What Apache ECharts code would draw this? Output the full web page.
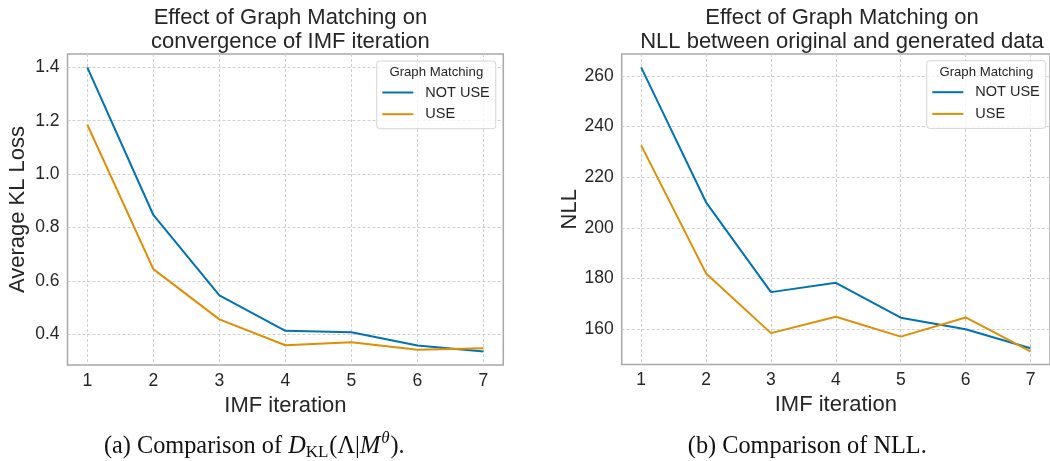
<!DOCTYPE html>
<html>
<head>
<meta charset="utf-8">
<script src="https://cdn.jsdelivr.net/npm/echarts@6/dist/echarts.min.js"></script>
<style>
  html, body { margin: 0; padding: 0; background: #ffffff; }
  #chart { width: 1050px; height: 461px; }
</style>
</head>
<body>
<div id="chart"></div>
<script>
// ---- data ----
const iterations = [1, 2, 3, 4, 5, 6, 7];
const klNotUse = [1.400, 0.847, 0.546, 0.413, 0.408, 0.358, 0.336];
const klUse = [1.185, 0.644, 0.456, 0.359, 0.370, 0.342, 0.348];
const nllNotUse = [263.4, 210.1, 174.6, 178.3, 164.5, 159.9, 152.4];
const nllUse = [232.6, 182.0, 158.4, 164.9, 157.0, 164.6, 151.2];
const klTicks = [0.4, 0.6, 0.8, 1.0, 1.2, 1.4];
const nllTicks = [160, 180, 200, 220, 240, 260];
const xTicks = [1, 2, 3, 4, 5, 6, 7];
const seriesNames = ['NOT USE', 'USE'];
const legendTitle = 'Graph Matching';
const titleA = 'Effect of Graph Matching on\nconvergence of IMF iteration';
const titleB = 'Effect of Graph Matching on\nNLL between original and generated data';

// ---- style ----
const FONT = '"Liberation Sans", Arial, sans-serif';
const SERIF = '"Liberation Serif", "Times New Roman", serif';
const TXT = '#262626';
const BLUE = '#0173b2';
const ORANGE = '#de8f05';
const GRIDC = '#cfcfcf';

const toPts = (arr) => iterations.map((x, i) => [x, arr[i]]);

function xAxisDef(gi) {
  return {
    type: 'value', gridIndex: gi, min: 0.7, max: 7.3,
    name: 'IMF iteration', nameLocation: 'middle', nameGap: 24,
    nameTextStyle: { fontFamily: FONT, fontSize: 22, color: TXT },
    axisLine: { show: false },
    axisTick: { show: false, customValues: xTicks },
    axisLabel: { customValues: xTicks, fontFamily: FONT, fontSize: 17.5, color: TXT, margin: 7 },
    splitLine: { show: true, lineStyle: { color: GRIDC, type: [3, 2], width: 1 } }
  };
}
function yAxisDef(gi, name, min, max, ticks, fmt) {
  return {
    type: 'value', gridIndex: gi, min: min, max: max,
    name: name, nameLocation: 'middle', nameGap: 39,
    nameTextStyle: { fontFamily: FONT, fontSize: 22, color: TXT },
    axisLine: { show: false },
    axisTick: { show: false, customValues: ticks },
    axisLabel: { customValues: ticks, fontFamily: FONT, fontSize: 17.5, color: TXT, margin: 8, formatter: fmt },
    splitLine: { show: true, lineStyle: { color: GRIDC, type: [3, 2], width: 1 } }
  };
}
function legendDef(left, top) {
  return {
    orient: 'vertical', left: left, top: top,
    data: seriesNames,
    icon: 'path://M0,6 L31,6 L31,8 L0,8 Z',
    itemWidth: 31, itemHeight: 14, itemGap: 6.7,
    padding: [24, 6, 7, 5.6],
    backgroundColor: 'rgba(255,255,255,0.8)',
    borderColor: '#d6d6d6', borderWidth: 1, borderRadius: 3,
    textStyle: { fontFamily: FONT, fontSize: 14.5, color: TXT, padding: [0, 0, 0, 7] },
    selectedMode: false
  };
}
function lineSeries(name, gi, data, color) {
  return {
    type: 'line', name: name, xAxisIndex: gi, yAxisIndex: gi,
    data: toPts(data), symbol: 'none', showSymbol: false,
    lineStyle: { color: color, width: 2 }, itemStyle: { color: color },
    z: 3, animation: false
  };
}

const chart = echarts.init(document.getElementById('chart'), null, { renderer: 'canvas' });
chart.setOption({
  backgroundColor: '#ffffff',
  animation: false,
  title: [
    { text: titleA, left: 285.4, top: 1, textAlign: 'center',
      textStyle: { fontFamily: FONT, fontSize: 22, fontWeight: 'normal', color: TXT, lineHeight: 24 } },
    { text: titleB, left: 837, top: 1, textAlign: 'center',
      textStyle: { fontFamily: FONT, fontSize: 22, fontWeight: 'normal', color: TXT, lineHeight: 24 } }
  ],
  grid: [
    { left: 67.5, top: 54, width: 435.8, height: 311, show: true, borderColor: '#a8a8a8', borderWidth: 1.5, backgroundColor: 'transparent' },
    { left: 621.7, top: 54, width: 431.3, height: 310.5, show: true, borderColor: '#a8a8a8', borderWidth: 1.5, backgroundColor: 'transparent' }
  ],
  xAxis: [xAxisDef(0), xAxisDef(1)],
  yAxis: [
    yAxisDef(0, 'Average KL Loss', 0.285, 1.45, klTicks, (v) => v.toFixed(1)),
    yAxisDef(1, 'NLL', 146, 268.7, nllTicks, (v) => String(Math.round(v)))
  ],
  legend: [legendDef(376.7, 61), legendDef(926.7, 60.7)],
  series: [
    lineSeries(seriesNames[0], 0, klNotUse, BLUE),
    lineSeries(seriesNames[1], 0, klUse, ORANGE),
    lineSeries(seriesNames[0], 1, nllNotUse, BLUE),
    lineSeries(seriesNames[1], 1, nllUse, ORANGE)
  ],
  graphic: [
    { type: 'text', x: 436.3, y: 72.5,
      style: { text: legendTitle, font: '13.2px ' + FONT, fill: TXT, align: 'center', verticalAlign: 'middle' }, z: 100 },
    { type: 'text', x: 986.3, y: 72.5,
      style: { text: legendTitle, font: '13.2px ' + FONT, fill: TXT, align: 'center', verticalAlign: 'middle' }, z: 100 },
    { type: 'text', x: 254.3, y: 447,
      style: {
        text: '{n|(a) Comparison of }{i|D}{sub|KL}{n|(Λ|}{i|M}{sup|θ}{n|).}',
        align: 'center', verticalAlign: 'middle', fill: '#111',
        rich: {
          n: { fontFamily: SERIF, fontSize: 24.3, fill: '#111' },
          i: { fontFamily: SERIF, fontSize: 24.3, fontStyle: 'italic', fill: '#111' },
          sub: { fontFamily: SERIF, fontSize: 17, fill: '#111', padding: [12, 1, 0, 0] },
          sup: { fontFamily: SERIF, fontSize: 17, fontStyle: 'italic', fill: '#111', padding: [0, 1, 17, 1] }
        }
      }, z: 100 },
    { type: 'text', x: 807.3, y: 447,
      style: { text: '(b) Comparison of NLL.', align: 'center', verticalAlign: 'middle',
        font: '24.3px ' + SERIF, fill: '#111' }, z: 100 }
  ]
});
</script>
</body>
</html>
